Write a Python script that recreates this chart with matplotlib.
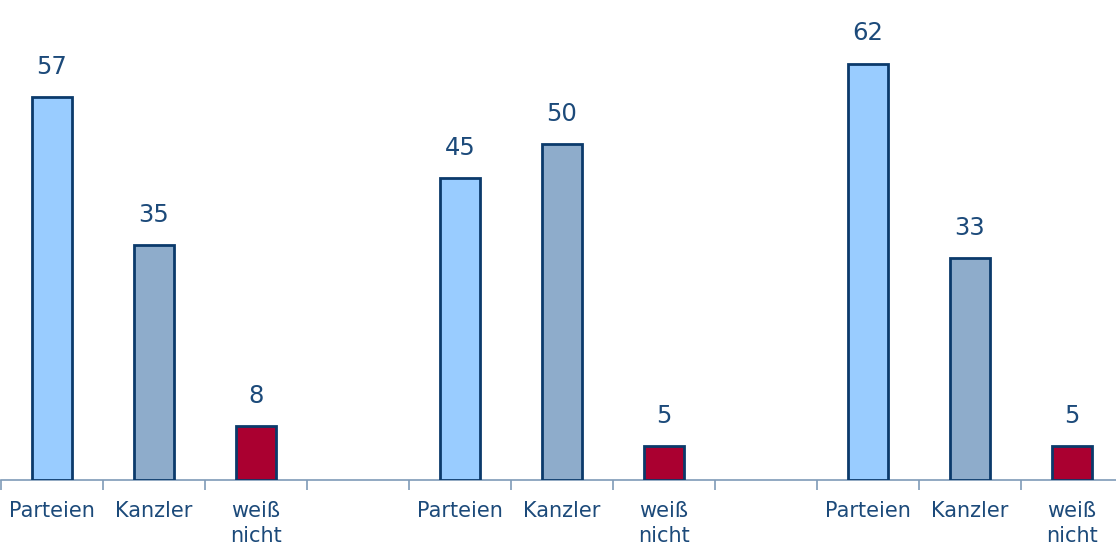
import numpy as np
import matplotlib
matplotlib.use('Agg')
import matplotlib.pyplot as plt

# Antworten je Gruppe: Parteien, Kanzler, weiß nicht
kategorien = ['Parteien', 'Kanzler', 'weiß\nnicht']
gruppe_1 = [57, 35, 8]
gruppe_2 = [45, 50, 5]
gruppe_3 = [62, 33, 5]
gruppen = [gruppe_1, gruppe_2, gruppe_3]

farben = ['#99ccff', '#8eaccb', '#aa0030']
rand = '#0b3a6b'
textfarbe = '#1c4a7a'

fig = plt.figure(figsize=(11.16, 5.45), dpi=100)
ax = fig.add_axes([1 / 1116, 65 / 545, 1122 / 1116, 470 / 545])

positionen, beschriftungen = [], []
for g, werte in enumerate(gruppen):
    for i, wert in enumerate(werte):
        x = g * 4 + i
        ax.bar(x, wert, width=0.40, color=farben[i], edgecolor=rand,
               linewidth=2, zorder=3)
        ax.text(x, wert + 4.5, str(wert), ha='center', va='center',
                fontsize=17.5, color=textfarbe)
        positionen.append(x)
        beschriftungen.append(kategorien[i])

ax.set_xlim(-0.5, 10.5)
ax.set_ylim(0, 70)

ax.set_xticks(positionen)
ax.set_xticklabels(beschriftungen, fontsize=15, color=textfarbe,
                   linespacing=1.3, va='top')
ax.tick_params(axis='x', which='major', length=0, pad=15)
ax.set_xticks(np.arange(-0.5, 11, 1), minor=True)
ax.tick_params(axis='x', which='minor', length=7, width=1.2,
               color='#7f9bb8', direction='out')
ax.set_yticks([])

for seite in ['top', 'right', 'left']:
    ax.spines[seite].set_visible(False)
ax.spines['bottom'].set_color('#7f9bb8')
ax.spines['bottom'].set_linewidth(1.2)

fig.savefig('out.png', dpi=100)
